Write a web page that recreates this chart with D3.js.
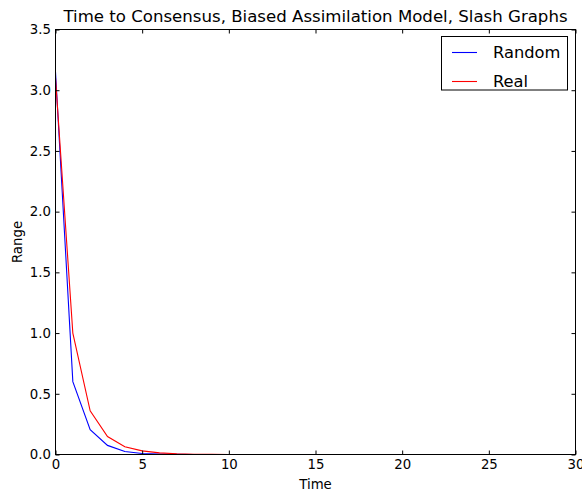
<!DOCTYPE html>
<html><head><meta charset="utf-8">
<script src="https://cdn.jsdelivr.net/npm/d3@7"></script>
<style>body{margin:0;background:#fff}svg{display:block}text{font-family:"DejaVu Sans",sans-serif}</style>
</head><body>
<svg id="c" width="582" height="492"></svg>
<script>
const title = "Time to Consensus, Biased Assimilation Model, Slash Graphs";
const xLabel = "Time";
const yLabel = "Range";
const time = [0,1,2,3,4,5,6,7,8,9,10,11,12];
const randomVals = [3.15,0.60,0.205,0.075,0.025,0.008,0.003,0.001,0.0004,0.0002,0.0001,0,0];
const realVals = [3.10,1.00,0.36,0.148,0.064,0.03,0.013,0.006,0.0025,0.001,0.0005,0.0002,0.0001];
const seriesNames = ["Random","Real"];
const seriesColors = ["#0000ff","#ff0000"];
const xTicks = [0,5,10,15,20,25,30];
const yTicks = [0,0.5,1,1.5,2,2.5,3,3.5];

const svg = d3.select("#c");
const L=55.5, R=575.5, T=29.5, B=454.5;
const x = d3.scaleLinear().domain([0,30]).range([L,R]);
const y = d3.scaleLinear().domain([0,3.5]).range([B,T]);

// series
const line = d3.line().x((d,i)=>x(time[i])).y(d=>y(d));
[randomVals, realVals].forEach((vals,k)=>{
  svg.append("path").datum(vals).attr("d",line).attr("fill","none")
    .attr("stroke",seriesColors[k]).attr("stroke-width",1.1);
});

// axes: ticks inward on all sides
const tl = 4;
const fs = 13.3;
svg.append("g").attr("transform",`translate(0,${B})`)
  .call(d3.axisBottom(x).tickValues(xTicks).tickSize(-tl).tickPadding(5.5).tickFormat(d3.format("d")))
  .call(g=>{g.select(".domain").remove();g.selectAll("text").attr("font-size",fs).attr("fill","#000");});
svg.append("g").attr("transform",`translate(0,${T})`)
  .call(d3.axisTop(x).tickValues(xTicks).tickSize(-tl).tickFormat(""))
  .call(g=>g.select(".domain").remove());
svg.append("g").attr("transform",`translate(${L},0)`)
  .call(d3.axisLeft(y).tickValues(yTicks).tickSize(-tl).tickPadding(4.5).tickFormat(d3.format(".1f")))
  .call(g=>{g.select(".domain").remove();g.selectAll("text").attr("font-size",fs).attr("fill","#000");});
svg.append("g").attr("transform",`translate(${R},0)`)
  .call(d3.axisRight(y).tickValues(yTicks).tickSize(-tl).tickFormat(""))
  .call(g=>g.select(".domain").remove());
svg.selectAll(".tick line").attr("stroke","#000");

svg.append("rect").attr("x",L).attr("y",T).attr("width",R-L).attr("height",B-T)
  .attr("fill","none").attr("stroke","#000").attr("stroke-width",1);

// title & labels
svg.append("text").attr("x",(L+R)/2).attr("y",22).attr("text-anchor","middle")
  .attr("font-size",16.6).text(title);
svg.append("text").attr("x",(L+R)/2).attr("y",489).attr("text-anchor","middle")
  .attr("font-size",fs).text(xLabel);
svg.append("text").attr("transform",`translate(21.5,${(T+B)/2}) rotate(-90)`).attr("text-anchor","middle")
  .attr("font-size",fs).text(yLabel);

// legend
const lg = svg.append("g");
lg.append("rect").attr("x",441.5).attr("y",36.5).attr("width",126).attr("height",53.5)
  .attr("fill","#fff").attr("stroke","#000").attr("stroke-width",1);
seriesNames.forEach((n,k)=>{
  const cy = 52.5 + k*29;
  lg.append("line").attr("x1",452).attr("x2",477).attr("y1",cy).attr("y2",cy)
    .attr("stroke",seriesColors[k]).attr("stroke-width",1.1);
  lg.append("text").attr("x",493).attr("y",cy).attr("dy","0.36em").attr("font-size",16.3).text(n);
});
</script>
</body></html>
